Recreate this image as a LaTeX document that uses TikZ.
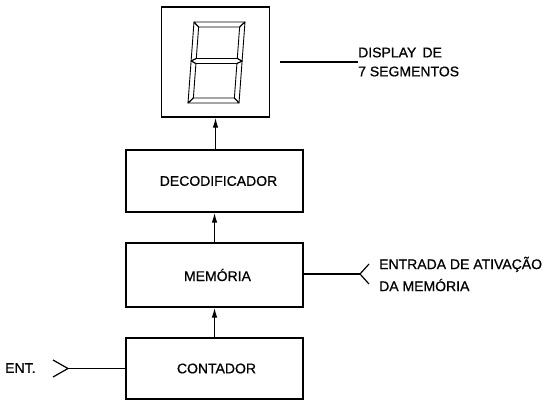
\documentclass[tikz,border=0pt]{standalone}
\usepackage{fontspec}
\setmainfont{Liberation Sans}[FakeBold=0.7]
\usetikzlibrary{arrows.meta}
\begin{document}
\begin{tikzpicture}[x=1pt,y=-1pt,
  blk/.style={draw, line width=1.3pt, inner sep=0pt, font=\fontsize{14}{17}\selectfont},
  conn/.style={line width=1.2pt},
  arr/.style={line width=1.2pt,-{Latex[length=10pt,width=5.5pt]}},
  lbl/.style={align=left, anchor=west, inner sep=0pt},
  seg/.style={line width=0.9pt, line join=round}]
\useasboundingbox (0,0) rectangle (553,404);

% blocks
\node[blk, minimum width=108pt, minimum height=110pt] (disp) at (215.5,62) {};
\node[blk, minimum width=177pt, minimum height=62pt] (dec) at (214.5,181) {\hspace*{8pt}DECODIFICADOR};
\node[blk, minimum width=177pt, minimum height=64pt] (mem) at (214.5,275) {\hspace*{6pt}MEMÓRIA};
\node[blk, minimum width=177pt, minimum height=61pt] (cont) at (214.5,368.5) {\hspace*{4pt}CONTADOR};

% seven-segment digit
\begin{scope}[shift={(188,103)}, xslant=0.074, seg]
  \draw (0,-81) -- (51,-81) -- (46,-76) -- (5,-76) -- cycle;
  \draw (51,-81) -- (51,-42) -- (46,-44.5) -- (46,-76) -- cycle;
  \draw (0,-81) -- (5,-76) -- (5,-44.5) -- (0,-42) -- cycle;
  \draw (0,-42) -- (5,-44.5) -- (46,-44.5) -- (51,-42) -- (46,-39.5) -- (5,-39.5) -- cycle;
  \draw (0,-42) -- (5,-39.5) -- (5,-5) -- (0,0) -- cycle;
  \draw (51,-42) -- (46,-39.5) -- (46,-5) -- (51,0) -- cycle;
  \draw (0,0) -- (5,-5) -- (46,-5) -- (51,0) -- cycle;
\end{scope}

% arrows between blocks
\draw[arr] (dec.north -| disp.south) -- (disp.south);
\draw[arr] (mem.north) -- (dec.south);
\draw[arr] (cont.north) -- (mem.south);

% display label
\node[lbl, font=\fontsize{14}{19}\selectfont] (dnote) at (358,62) {DISPLAY \,DE\\7 SEGMENTOS};
\coordinate (dl) at (280,62);
\draw[conn] (dl) -- (dnote.west);

% memory activation input
\node[lbl, font=\fontsize{14}{22}\selectfont] (anote) at (379,274) {ENTRADA DE ATIVAÇÃO\\DA MEMÓRIA};
\coordinate (atip) at (360,274);
\coordinate (aup) at (369,264);
\coordinate (adn) at (369,284);
\draw[conn] (mem.east |- atip) -- (atip);
\draw[conn] (aup) -- (atip) -- (adn);

% counter input
\node[lbl, font=\fontsize{14}{17}\selectfont] (ent) at (5,368) {ENT.};
\coordinate (etip) at (68,368.5);
\coordinate (eup) at (53,360);
\coordinate (edn) at (53,377);
\draw[conn] (etip) -- (cont.west);
\draw[conn] (eup) -- (etip) -- (edn);
\end{tikzpicture}
\end{document}
